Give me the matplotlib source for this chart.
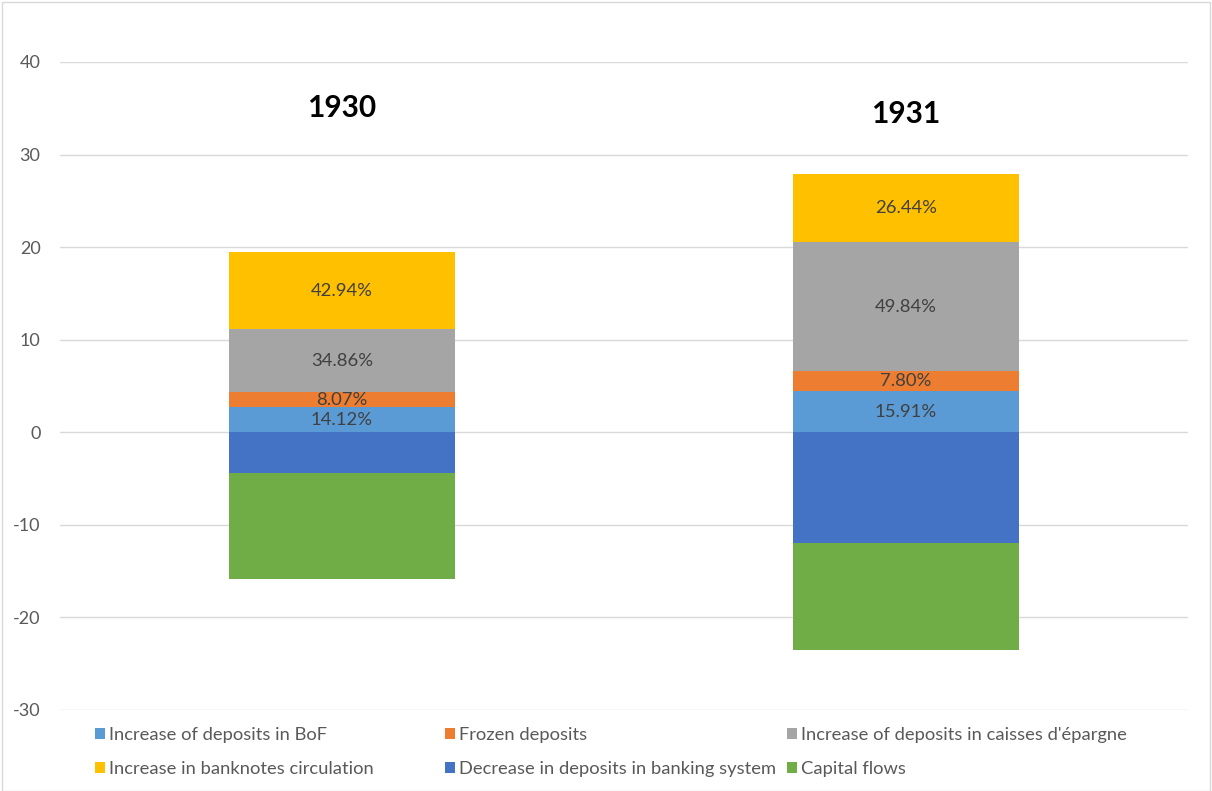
import matplotlib.pyplot as plt
from matplotlib.patches import Rectangle

plt.rcParams['font.family'] = ['Lato', 'DejaVu Sans']

# Data
years = ['1930', '1931']
bof = [2.75, 4.44]
frozen = [1.57, 2.18]
caisses = [6.80, 13.90]
banknotes = [8.37, 7.38]
decrease = [-4.40, -12.00]
capital = [-11.40, -11.50]

bof_pct = ['14.12%', '15.91%']
frozen_pct = ['8.07%', '7.80%']
caisses_pct = ['34.86%', '49.84%']
banknotes_pct = ['42.94%', '26.44%']

yticks = [-30, -20, -10, 0, 10, 20, 30, 40]

colors = {
    'bof': '#5B9BD5',
    'frozen': '#ED7D31',
    'caisses': '#A5A5A5',
    'banknotes': '#FFC000',
    'decrease': '#4472C4',
    'capital': '#70AD47',
}

fig = plt.figure(figsize=(12.12, 7.91), dpi=100)
ax = fig.add_axes([60 / 1212, 81 / 791, 1128 / 1212, 648 / 791])

x = range(len(years))
w = 0.4

# positive stack
bottom = [0, 0]
handles = {}
for key, vals, pcts in [('bof', bof, bof_pct), ('frozen', frozen, frozen_pct),
                        ('caisses', caisses, caisses_pct),
                        ('banknotes', banknotes, banknotes_pct)]:
    h = ax.bar(x, vals, w, bottom=bottom, color=colors[key], zorder=2)
    handles[key] = h
    for i in x:
        ax.text(i, bottom[i] + vals[i] / 2, pcts[i], ha='center', va='center',
                fontsize=13.3, color='#404040', zorder=3)
    bottom = [b + v for b, v in zip(bottom, vals)]

# negative stack
handles['decrease'] = ax.bar(x, decrease, w, color=colors['decrease'], zorder=2)
handles['capital'] = ax.bar(x, capital, w, bottom=decrease, color=colors['capital'], zorder=2)

# year labels
ax.text(0, 35.0, years[0], ha='center', va='center', fontsize=21.5, fontweight='bold', color='black')
ax.text(1, 34.4, years[1], ha='center', va='center', fontsize=21.5, fontweight='bold', color='black')

ax.set_xlim(-0.5, 1.5)
ax.set_ylim(-30, 40)
ax.set_yticks(yticks)
ax.set_yticklabels([str(t) for t in yticks], fontsize=13, color='#595959')
ax.set_xticks([])
ax.tick_params(axis='y', length=0, pad=14)
ax.yaxis.grid(True, color='#D9D9D9', linewidth=1)
ax.set_axisbelow(True)
for s in ax.spines.values():
    s.set_visible(False)

# legend in three columns, placed like the Excel layout
cols = [
    (['bof', 'banknotes'], ['Increase of deposits in BoF', 'Increase in banknotes circulation'], 86),
    (['frozen', 'decrease'], ['Frozen deposits', 'Decrease in deposits in banking system'], 436),
    (['caisses', 'capital'], ["Increase of deposits in caisses d'épargne", 'Capital flows'], 778),
]
for keys, labels, xpix in cols:
    leg = fig.legend([handles[k] for k in keys], labels, loc='upper left',
                     bbox_to_anchor=(xpix / 1212, 1 - 718 / 791), frameon=False,
                     fontsize=13.2, handlelength=0.55, handleheight=0.55, handletextpad=0.2,
                     labelspacing=0.95, borderpad=0)
    for t in leg.get_texts():
        t.set_color('#595959')

# figure border
fig.patches.append(Rectangle((2 / 1212, 0), 1208 / 1212, 789 / 791, transform=fig.transFigure,
                             fill=False, edgecolor='#D9D9D9', linewidth=1))

fig.savefig('out.png', dpi=100)
